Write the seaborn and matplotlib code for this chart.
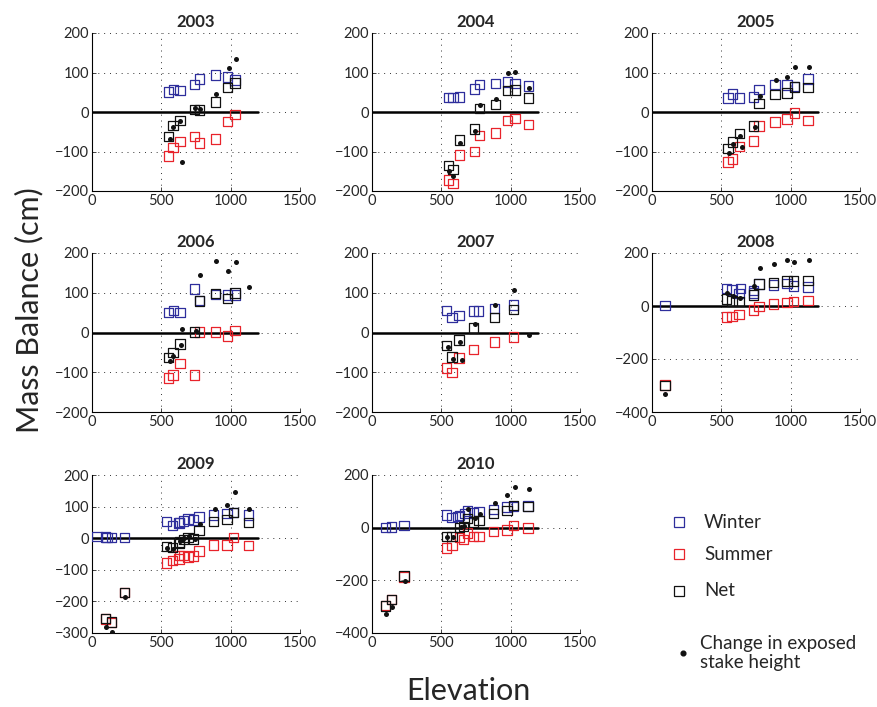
import matplotlib
matplotlib.use("Agg")
import matplotlib.pyplot as plt
from matplotlib.lines import Line2D
import seaborn as sns
import pandas as pd

# Stake measurements: (elevation m, mass balance cm)
winter_2003 = [(553, 51), (587, 57), (635, 54), (740, 70), (776, 84), (892, 94), (976, 89), (1031, 81)]
summer_2003 = [(553, -111), (584, -90), (635, -75), (740, -62), (776, -78), (892, -68), (976, -24), (1031, -6)]
net_2003 = [(553, -62), (584, -34), (635, -21), (740, 6), (776, 5), (892, 25), (976, 62), (1031, 73)]
stake_2003 = [(560, -68), (587, -37), (637, -24), (651, -127), (745, 9), (779, 8), (897, 45), (986, 112), (1036, 135)]

winter_2004 = [(553, 36), (584, 36), (632, 38), (738, 58), (774, 69), (892, 72), (976, 76), (1031, 72), (1130, 66)]
summer_2004 = [(553, -172), (584, -181), (632, -109), (738, -100), (774, -59), (892, -53), (976, -22), (1031, -16), (1130, -31)]
net_2004 = [(553, -136), (584, -146), (632, -71), (738, -43), (774, 9), (892, 19), (976, 54), (1031, 56), (1130, 35)]
stake_2004 = [(555, -149), (587, -161), (637, -79), (743, -47), (779, 17), (894, 34), (983, 98), (1034, 102), (1135, 62)]

winter_2005 = [(548, 35), (579, 46), (630, 35), (733, 38), (772, 57), (887, 69), (974, 68), (1029, 64), (1125, 84)]
summer_2005 = [(548, -127), (579, -119), (630, -88), (733, -73), (772, -35), (887, -25), (974, -18), (1029, -3), (1125, -22)]
net_2005 = [(548, -93), (579, -76), (630, -54), (733, -35), (772, 22), (887, 44), (974, 48), (1029, 63), (1125, 62)]
stake_2005 = [(553, -104), (584, -82), (635, -60), (647, -88), (743, -39), (776, 41), (892, 81), (976, 88), (1031, 113), (1130, 113)]

winter_2006 = [(553, 50), (587, 55), (635, 50), (740, 109), (776, 80), (892, 96), (976, 94), (1031, 94)]
summer_2006 = [(553, -114), (584, -107), (635, -78), (740, -107), (776, 1), (892, 1), (976, -9), (1031, 5)]
net_2006 = [(553, -63), (584, -51), (635, -29), (740, 1), (776, 79), (892, 98), (976, 85), (1031, 99)]
stake_2006 = [(560, -72), (587, -58), (639, -32), (651, 8), (748, 4), (779, 145), (897, 180), (983, 155), (1036, 177), (1135, 115)]

winter_2007 = [(538, 56), (577, 38), (627, 43), (733, 54), (769, 54), (882, 61), (1022, 69)]
summer_2007 = [(538, -89), (577, -101), (627, -64), (733, -43), (882, -24), (1022, -11)]
net_2007 = [(538, -33), (577, -62), (627, -19), (733, 11), (882, 38), (1022, 58)]
stake_2007 = [(546, -37), (582, -67), (632, -23), (647, -68), (740, 22), (887, 69), (1024, 108), (1130, -7)]

winter_2008 = [(94, 2), (536, 67), (577, 60), (627, 48), (639, 65), (733, 59), (733, 49), (772, 83), (877, 79), (974, 84), (1022, 75), (1125, 71)]
summer_2008 = [(94, -298), (536, -42), (577, -40), (627, -31), (733, -15), (772, -2), (877, 7), (974, 14), (1022, 17), (1125, 21)]
net_2008 = [(94, -300), (536, 27), (577, 19), (627, 17), (733, 41), (772, 83), (877, 89), (974, 95), (1022, 94), (1125, 96)]
stake_2008 = [(96, -333), (541, 50), (582, 38), (632, 29), (738, 76), (776, 144), (882, 158), (976, 174), (1024, 167), (1130, 173)]

winter_2009 = [(36, 5), (99, 4), (108, 3), (142, 3), (236, 3), (538, 52), (579, 41), (627, 48), (632, 50), (661, 55), (692, 61), (733, 57), (772, 67), (877, 73), (974, 79), (1022, 81), (1130, 73)]
summer_2009 = [(99, -256), (142, -266), (236, -172), (538, -78), (579, -70), (627, -66), (632, -55), (661, -54), (692, -59), (733, -56), (772, -40), (877, -22), (974, -22), (1022, 2), (1130, -23)]
net_2009 = [(99, -254), (142, -265), (236, -171), (538, -26), (579, -30), (627, -17), (632, -12), (661, -5), (692, 2), (733, -3), (772, 25), (877, 52), (974, 59), (1022, 81), (1130, 50)]
stake_2009 = [(103, -282), (147, -296), (238, -187), (543, -30), (584, -35), (632, -10), (651, -5), (666, 1), (697, 7), (740, -1), (776, 45), (884, 91), (976, 105), (1029, 145), (1135, 91)]

winter_2010 = [(99, 0), (142, 2), (231, 8), (536, 48), (577, 38), (620, 43), (632, 46), (671, 53), (690, 63), (733, 56), (772, 61), (877, 70), (974, 78), (1022, 80), (1125, 82)]
summer_2010 = [(99, -295), (142, -273), (231, -187), (536, -78), (577, -67), (632, -38), (661, -46), (690, -20), (733, -33), (772, -33), (877, -14), (974, -9), (1022, 8), (1125, -1)]
net_2010 = [(99, -297), (142, -273), (231, -184), (536, -33), (577, -33), (632, 1), (661, 5), (690, 34), (733, 22), (772, 27), (877, 53), (974, 66), (1022, 85), (1125, 81)]
stake_2010 = [(101, -329), (147, -301), (236, -204), (541, -34), (582, -37), (639, 4), (666, 5), (692, 71), (740, 38), (776, 52), (884, 95), (976, 123), (1029, 156), (1130, 147)]

years = [2003, 2004, 2005, 2006, 2007, 2008, 2009, 2010]
y_limits = {2003: (-200, 200), 2004: (-200, 200), 2005: (-200, 200), 2006: (-200, 200),
            2007: (-200, 200), 2008: (-400, 200), 2009: (-300, 200), 2010: (-400, 200)}
y_steps = {2003: 100, 2004: 100, 2005: 100, 2006: 100, 2007: 100, 2008: 200, 2009: 100, 2010: 200}
x_ticks = [0, 500, 1000, 1500]

series = {
    2003: (winter_2003, summer_2003, net_2003, stake_2003),
    2004: (winter_2004, summer_2004, net_2004, stake_2004),
    2005: (winter_2005, summer_2005, net_2005, stake_2005),
    2006: (winter_2006, summer_2006, net_2006, stake_2006),
    2007: (winter_2007, summer_2007, net_2007, stake_2007),
    2008: (winter_2008, summer_2008, net_2008, stake_2008),
    2009: (winter_2009, summer_2009, net_2009, stake_2009),
    2010: (winter_2010, summer_2010, net_2010, stake_2010),
}

BLUE = "#2e2e9c"
RED = "#e8232b"
BLACK = "#111111"

sns.set_style("white")
plt.rcParams["font.family"] = ["Lato", "DejaVu Sans"]

fig = plt.figure(figsize=(8.77, 7.07), dpi=100)

col_left = [92, 372, 652]
row_span = [(33, 191), (253, 412), (475, 633)]
W, H = 877.0, 707.0


def frame(pairs):
    return pd.DataFrame(pairs, columns=["elev", "mb"])


for i, yr in enumerate(years):
    r, c = divmod(i, 3)
    top, bot = row_span[r]
    ax = fig.add_axes([col_left[c] / W, 1 - bot / H, 208 / W, (bot - top) / H])
    lo, hi = y_limits[yr]
    ax.set_xlim(0, 1500)
    ax.set_ylim(lo, hi)
    ax.set_xticks(x_ticks)
    ax.set_yticks(list(range(lo, hi + 1, y_steps[yr])))
    ax.grid(True, color="#333333", linestyle=(0, (1, 5)), linewidth=0.7)
    ax.set_axisbelow(True)
    for s in ["top", "right"]:
        ax.spines[s].set_visible(False)
    for s in ["left", "bottom"]:
        ax.spines[s].set_color("black")
        ax.spines[s].set_linewidth(0.8)
    ax.tick_params(direction="in", length=3, width=0.6, labelsize=10.5, pad=2,
                   left=True, bottom=True)

    ax.plot([0, 1200], [0, 0], color="black", linewidth=1.8, zorder=2)

    w, s_, n, d = series[yr]
    for pairs, col in [(w, BLUE), (s_, RED), (n, BLACK)]:
        sns.scatterplot(data=frame(pairs), x="elev", y="mb", marker="s", s=46,
                        color=col, facecolor="none", edgecolor=col, linewidth=0.9,
                        ax=ax, zorder=3, legend=False)
    sns.scatterplot(data=frame(d), x="elev", y="mb", marker="o", s=13,
                    color=BLACK, edgecolor=BLACK, linewidth=0, ax=ax, zorder=4,
                    legend=False)
    ax.set_xlabel("")
    ax.set_ylabel("")
    ax.set_title(str(yr), fontsize=12, fontweight="bold", pad=4)

fig.text(29 / W, 1 - 310 / H, "Mass Balance (cm)", rotation=90, ha="center",
         va="center", fontsize=22)
fig.text(468 / W, 1 - 691 / H, "Elevation", ha="center", va="center", fontsize=22)

# Legend drawn in figure coordinates
legend_items = [(522, BLUE, "Winter"), (554, RED, "Summer"), (591, BLACK, "Net")]
for yp, col, lab in legend_items:
    fig.add_artist(Line2D([679 / W], [1 - yp / H], marker="s", markersize=7.5,
                          markerfacecolor="none", markeredgecolor=col,
                          markeredgewidth=0.9, linestyle="none"))
    fig.text(704 / W, 1 - yp / H, lab, ha="left", va="center", fontsize=13.5)
fig.add_artist(Line2D([683 / W], [1 - 653 / H], marker="o", markersize=3.4,
                      color=BLACK, linestyle="none"))
fig.text(700 / W, 1 - 653 / H, "Change in exposed\nstake height", ha="left",
         va="center", fontsize=13.5, linespacing=1.15)

fig.savefig("out.png", dpi=100)
